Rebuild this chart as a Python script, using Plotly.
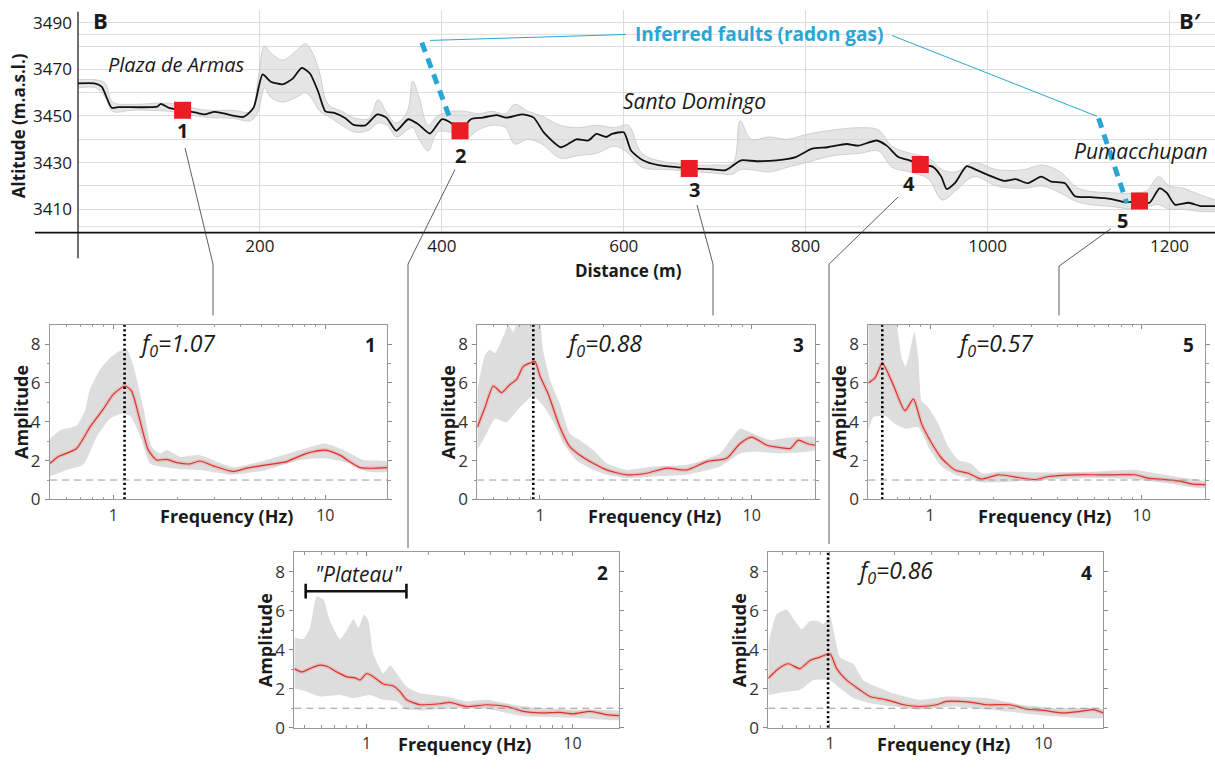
import plotly.graph_objects as go

W, H = 1215, 769
def px(x): return x / W
def py(y): return 1 - y / H

FONT = "Open Sans"
INK = "#1a1a1a"
CYAN = "#2aa6d6"
RED_SQ = "#ec1c24"
RED_LN = "#d9342b"

# ---------------- profile B-B' (distance m, altitude m.a.s.l.) ----------------
profile = [(0, 3464), (18, 3464), (26, 3462.6), (37, 3453.5), (44, 3453.8), (87, 3454), (91, 3455.2),
           (100, 3453.5), (114, 3452.5), (130, 3451.4), (139, 3450.7), (150, 3451.8), (160, 3451.1),
           (182, 3449.6), (193, 3453.5), (203, 3467.8), (212, 3464.7), (225, 3463.6), (236, 3466),
           (246, 3470.6), (255, 3468.2), (264, 3460.5), (272, 3452), (281, 3451.4), (294, 3449),
           (303, 3446.2), (316, 3446), (329, 3450.7), (339, 3449.3), (350, 3443.7), (363, 3448.6),
           (374, 3446.5), (387, 3442.5), (400, 3448.6), (411, 3446.8), (420, 3443.7), (432, 3448.6),
           (445, 3449.3), (460, 3450.4), (471, 3449.3), (488, 3450.7), (501, 3449.3), (512, 3443),
           (531, 3436.6), (548, 3440), (561, 3439.5), (570, 3442.3), (581, 3441), (587, 3442.3),
           (600, 3443), (608, 3435.2), (621, 3431), (638, 3428.9), (660, 3428), (672, 3427.5),
           (695, 3427.2), (712, 3426.8), (729, 3431), (746, 3430.6), (768, 3431), (789, 3432.4),
           (807, 3436), (824, 3436.6), (845, 3438), (858, 3437.3), (878, 3439.5), (889, 3437.3),
           (902, 3432.4), (914, 3431), (926, 3429.2), (940, 3428.2), (949, 3424), (955, 3418.7),
           (964, 3421.2), (977, 3428.5), (988, 3426.8), (1005, 3424), (1018, 3422.2), (1031, 3422.9),
           (1044, 3421.2), (1059, 3424), (1070, 3421.9), (1085, 3421.2), (1096, 3415.6), (1113, 3415.2),
           (1135, 3414.5), (1152, 3413), (1167, 3413.5), (1178, 3412.8), (1189, 3419), (1197, 3417),
           (1206, 3412), (1221, 3412.8), (1234, 3411.4), (1250, 3411.4)]

# spread of the individual profiles (distance, upper, lower)
envelope = [(0, 3465.5, 3462), (20, 3465.5, 3462), (30, 3464, 3458), (38, 3456, 3452), (60, 3455, 3452.5),
            (100, 3455.5, 3452), (140, 3452.5, 3449.5), (170, 3452.5, 3449), (190, 3452, 3448),
            (198, 3466, 3452), (205, 3480, 3462), (212, 3477, 3458), (225, 3474, 3456), (240, 3478, 3458),
            (250, 3481, 3460), (258, 3477, 3457), (266, 3468, 3452), (275, 3455, 3450), (290, 3452, 3446),
            (305, 3449, 3443), (320, 3449, 3444), (330, 3457, 3447), (340, 3451, 3446), (350, 3447, 3441),
            (362, 3452, 3444), (368, 3465, 3445), (375, 3458, 3440), (385, 3446, 3435), (395, 3450, 3443),
            (410, 3452, 3443), (425, 3452, 3440), (440, 3451, 3444), (455, 3452, 3446), (470, 3451, 3445),
            (480, 3455, 3438), (495, 3452, 3440), (510, 3450, 3438), (530, 3446, 3432), (550, 3445, 3433),
            (570, 3446, 3434), (590, 3445, 3437), (605, 3446, 3434), (620, 3434, 3428), (650, 3430, 3427),
            (700, 3429, 3425.5), (720, 3430, 3425), (728, 3448, 3427), (740, 3440, 3427), (760, 3441, 3426),
            (780, 3440, 3428), (800, 3442, 3430), (830, 3444, 3433), (860, 3445, 3434), (880, 3444, 3435),
            (895, 3437, 3428), (915, 3434, 3426), (935, 3432, 3423), (950, 3427, 3414), (965, 3426, 3418),
            (985, 3430, 3424), (1010, 3427, 3420), (1040, 3427, 3419), (1060, 3429, 3420), (1080, 3426, 3417),
            (1100, 3419, 3413), (1140, 3417, 3411), (1160, 3417, 3410), (1175, 3418, 3411), (1188, 3424, 3412),
            (1200, 3420, 3410), (1215, 3419, 3410), (1235, 3416, 3409), (1250, 3414, 3409)]

site_ids = ["1", "2", "3", "4", "5"]
site_dist = [115, 420, 672, 926, 1167]
site_alt = [3452.5, 3443.7, 3427.5, 3429.2, 3413.6]

fault1_d = [378, 410]
fault1_a = [3481.5, 3447.8]
fault2_d = [1122, 1153]
fault2_a = [3449, 3412.7]

dist_ticks = [200, 400, 600, 800, 1000, 1200]
alt_ticks = [3410, 3430, 3450, 3470, 3490]

# ---------------- H/V spectra (frequency Hz, amplitude) ----------------
s1_med_f = [0.503, 0.55, 0.671, 0.776, 0.897, 1.0, 1.135, 1.22, 1.336, 1.463, 1.6, 1.785, 1.99, 2.3, 2.56, 2.96, 3.68, 4.26, 5.29, 6.57, 8.17, 10.0, 11.7, 14.6, 19.6]
s1_med_a = [1.86, 2.2, 2.62, 3.72, 4.65, 5.41, 5.84, 5.58, 4.06, 2.54, 2.03, 2.06, 1.9, 1.83, 1.98, 1.73, 1.44, 1.61, 1.78, 1.95, 2.37, 2.54, 2.28, 1.64, 1.64]
s1_up_f = [0.503, 0.56, 0.671, 0.735, 0.776, 0.865, 0.964, 1.056, 1.156, 1.243, 1.385, 1.516, 1.66, 1.785, 2.06, 2.56, 3.68, 5.29, 7.6, 9.96, 12.2, 15.1, 19.6]
s1_up_a = [3.13, 3.55, 3.8, 4.57, 5.67, 6.68, 7.28, 7.6, 7.75, 6.9, 4.74, 2.71, 2.37, 2.54, 2.2, 2.28, 1.66, 2.03, 2.54, 2.88, 2.54, 2.03, 1.95]
s1_lo_f = [0.503, 0.602, 0.722, 0.834, 0.964, 1.075, 1.198, 1.336, 1.49, 1.66, 2.06, 2.56, 3.68, 5.29, 7.6, 9.96, 13.1, 15.7, 19.6]
s1_lo_a = [1.18, 1.52, 1.78, 3.21, 4.15, 4.4, 4.31, 3.3, 1.85, 1.69, 1.56, 1.52, 1.27, 1.52, 2.03, 2.12, 1.86, 1.44, 1.44]

s2_med_f = [0.445, 0.483, 0.53, 0.582, 0.639, 0.715, 0.8, 0.878, 0.928, 1.0, 1.077, 1.205, 1.348, 1.452, 1.565, 1.816, 2.27, 2.54, 3.06, 3.83, 4.79, 5.78, 6.96, 8.71, 10.1, 12.2, 14.7, 17.0]
s2_med_a = [3.03, 2.86, 3.03, 3.2, 3.15, 2.86, 2.61, 2.56, 2.44, 2.78, 2.61, 2.24, 2.14, 1.85, 1.43, 1.18, 1.23, 1.3, 1.09, 1.18, 1.09, 0.84, 0.76, 0.79, 0.71, 0.84, 0.67, 0.62]
s2_up_f = [0.445, 0.492, 0.53, 0.571, 0.616, 0.663, 0.742, 0.814, 0.861, 0.911, 0.971, 1.019, 1.077, 1.205, 1.299, 1.399, 1.565, 1.816, 2.45, 3.06, 3.83, 5.16, 6.96, 10.1, 17.0]
s2_up_a = [4.63, 4.55, 5.13, 6.73, 6.57, 5.47, 4.55, 5.13, 5.56, 5.13, 5.81, 5.47, 3.79, 2.78, 3.2, 2.78, 2.1, 1.77, 1.6, 1.35, 1.43, 1.18, 1.01, 0.93, 0.84]
s2_lo_f = [0.445, 0.511, 0.593, 0.742, 0.861, 1.038, 1.205, 1.399, 1.565, 1.887, 2.74, 3.98, 5.78, 10.1, 17.0]
s2_lo_a = [2.02, 1.85, 1.6, 1.68, 1.52, 1.68, 1.43, 1.35, 0.93, 0.89, 1.01, 0.93, 0.59, 0.51, 0.42]

s3_med_f = [0.506, 0.55, 0.602, 0.659, 0.722, 0.776, 0.834, 0.897, 0.947, 1.0, 1.095, 1.243, 1.386, 1.545, 1.786, 2.065, 2.57, 3.19, 3.97, 4.93, 6.13, 7.62, 8.81, 10.0, 11.8, 13.6, 15.2, 16.6, 18.2, 19.9]
s3_med_a = [3.72, 4.74, 5.84, 5.5, 5.92, 6.18, 6.85, 7.02, 7.1, 6.35, 5.41, 3.72, 2.71, 2.28, 1.86, 1.52, 1.27, 1.35, 1.61, 1.52, 1.95, 2.12, 2.88, 3.21, 2.79, 2.67, 2.62, 3.05, 2.88, 2.79]
s3_up_f = [0.506, 0.55, 0.58, 0.613, 0.671, 0.709, 0.748, 0.804, 0.897, 0.982, 1.037, 1.115, 1.243, 1.386, 1.545, 1.786, 2.065, 2.57, 3.43, 4.93, 7.08, 8.81, 10.2, 12.2, 13.6, 16.3, 19.9]
s3_up_a = [5.67, 7.44, 7.7, 7.53, 8.38, 8.97, 8.63, 9.6, 9.8, 9.6, 7.61, 6.18, 4.9, 3.38, 3.05, 2.54, 1.86, 1.52, 1.69, 1.78, 2.37, 3.64, 3.38, 3.05, 3.13, 3.21, 3.21]
s3_lo_f = [0.506, 0.56, 0.613, 0.696, 0.804, 0.93, 1.037, 1.156, 1.289, 1.49, 1.786, 2.065, 2.57, 3.43, 4.93, 7.08, 8.81, 10.2, 13.6, 19.9]
s3_lo_a = [2.54, 3.38, 4.15, 3.98, 4.74, 5.33, 4.82, 4.0, 2.9, 2.0, 1.52, 1.27, 1.1, 1.18, 1.27, 1.69, 2.37, 2.45, 2.37, 2.54]

s4_med_f = [0.514, 0.573, 0.638, 0.723, 0.806, 0.898, 1.0, 1.075, 1.197, 1.382, 1.54, 1.844, 2.21, 2.64, 3.16, 3.52, 4.53, 5.43, 6.98, 8.35, 10.0, 12.4, 14.9, 17.2, 19.1]
s4_med_a = [2.53, 3.03, 3.28, 3.03, 3.45, 3.62, 3.79, 3.03, 2.44, 1.94, 1.6, 1.43, 1.18, 1.09, 1.18, 1.35, 1.31, 1.18, 1.18, 0.96, 0.89, 0.76, 0.84, 0.93, 0.76]
s4_up_f = [0.514, 0.562, 0.626, 0.685, 0.737, 0.806, 0.882, 0.931, 1.0, 1.055, 1.114, 1.286, 1.433, 1.655, 1.981, 2.64, 3.52, 5.43, 7.78, 11.1, 19.1]
s4_up_a = [4.29, 5.81, 6.06, 5.47, 5.05, 5.47, 5.47, 5.3, 5.72, 4.63, 3.62, 3.28, 2.44, 2.1, 1.77, 1.43, 1.6, 1.52, 1.18, 1.01, 0.93]
s4_lo_f = [0.514, 0.626, 0.723, 0.835, 1.0, 1.114, 1.286, 1.54, 1.981, 2.64, 3.79, 5.43, 7.78, 11.1, 19.1]
s4_lo_a = [1.68, 1.85, 1.94, 2.44, 2.44, 2.02, 1.52, 1.26, 1.09, 0.93, 1.09, 0.93, 0.76, 0.59, 0.51]

s5_med_f = [0.511, 0.55, 0.595, 0.659, 0.762, 0.834, 0.913, 1.0, 1.135, 1.313, 1.517, 1.754, 2.1, 2.71, 3.13, 3.62, 4.84, 6.24, 7.48, 9.3, 10.7, 12.9, 15.4, 17.2, 19.9]
s5_med_a = [6.0, 6.26, 7.02, 6.09, 4.57, 5.16, 3.89, 3.05, 2.12, 1.52, 1.35, 1.05, 1.27, 1.1, 1.02, 1.18, 1.27, 1.27, 1.27, 1.27, 1.1, 1.02, 0.93, 0.8, 0.76]
s5_up_f = [0.511, 0.671, 0.735, 0.767, 0.804, 0.843, 0.881, 0.913, 0.982, 1.095, 1.22, 1.361, 1.573, 1.754, 2.18, 3.62, 6.24, 9.3, 12.9, 15.4, 19.9]
s5_up_a = [9.6, 9.6, 7.28, 6.85, 7.61, 8.63, 7.28, 5.08, 4.74, 3.89, 2.71, 2.03, 1.83, 1.35, 1.44, 1.39, 1.44, 1.52, 1.27, 1.13, 0.93]
s5_lo_f = [0.511, 0.54, 0.613, 0.683, 0.762, 0.881, 1.0, 1.135, 1.313, 1.573, 1.754, 2.52, 3.62, 6.24, 9.3, 12.9, 19.9]
s5_lo_a = [3.55, 4.23, 4.31, 3.89, 3.64, 3.72, 2.54, 1.69, 1.27, 1.02, 0.88, 0.93, 1.02, 1.1, 1.02, 0.85, 0.59]

f0_text = {"1": "1.07", "3": "0.88", "4": "0.86", "5": "0.57"}
f0_line = {"1": 1.13, "3": 0.93, "4": 0.98, "5": 0.595}
plateau_f = [0.505, 1.56]
plateau_amp = 7.0

spectra = {
    "1": (s1_med_f, s1_med_a, s1_up_f, s1_up_a, s1_lo_f, s1_lo_a),
    "2": (s2_med_f, s2_med_a, s2_up_f, s2_up_a, s2_lo_f, s2_lo_a),
    "3": (s3_med_f, s3_med_a, s3_up_f, s3_up_a, s3_lo_f, s3_lo_a),
    "4": (s4_med_f, s4_med_a, s4_up_f, s4_up_a, s4_lo_f, s4_lo_a),
    "5": (s5_med_f, s5_med_a, s5_up_f, s5_up_a, s5_lo_f, s5_lo_a),
}

# panel frames in pixels: left, right, top, bottom, log10 x-range
panels = {
    "1": (50, 387, 329.3, 506.7, -0.2986, 1.291),
    "2": (294.3, 619, 560.2, 738.3, -0.352, 1.2266),
    "3": (477.3, 815, 329.3, 506.7, -0.296, 1.299),
    "4": (768.3, 1103.3, 560.2, 738.3, -0.289, 1.281),
    "5": (868.3, 1205, 329.3, 506.7, -0.2915, 1.299),
}

fig = go.Figure()

# ---------------- top profile ----------------
prof_d = [p[0] for p in profile]
prof_a = [p[1] for p in profile]
env_d = [e[0] for e in envelope]
env_hi = [e[1] for e in envelope]
env_lo = [e[2] for e in envelope]

fig.add_trace(go.Scatter(x=env_d, y=env_lo, mode="lines", line=dict(color="#c2c2c2", width=0.7, shape="spline"),
                         hoverinfo="skip", xaxis="x", yaxis="y"))
fig.add_trace(go.Scatter(x=env_d, y=env_hi, mode="lines", line=dict(color="#c2c2c2", width=0.7, shape="spline"),
                         fill="tonexty", fillcolor="rgba(212,212,212,0.6)", hoverinfo="skip", xaxis="x", yaxis="y"))
fig.add_trace(go.Scatter(x=prof_d, y=prof_a, mode="lines", line=dict(color="#111111", width=1.8, shape="spline", smoothing=0.6),
                         xaxis="x", yaxis="y"))
for fd, fa in [(fault1_d, fault1_a), (fault2_d, fault2_a)]:
    fig.add_trace(go.Scatter(x=fd, y=fa, mode="lines", line=dict(color=CYAN, width=5, dash="10px,7px"),
                             xaxis="x", yaxis="y"))
fig.add_trace(go.Scatter(x=site_dist, y=site_alt, mode="markers",
                         marker=dict(symbol="square", size=17, color=RED_SQ, line=dict(width=0)),
                         xaxis="x", yaxis="y"))

annotations = []
shapes = []

label_shift = {"1": (0, -20), "2": (0, -25), "3": (5, -21), "4": (-11, -19), "5": (-17, -20)}
for sid, d, a in zip(site_ids, site_dist, site_alt):
    dx, dy = label_shift[sid]
    annotations.append(dict(x=d, y=a, xref="x", yref="y", text=f"<b>{sid}</b>", showarrow=False,
                            xshift=dx, yshift=dy, font=dict(size=20, color=INK, family=FONT)))

def ptext(x, y, text, size, color=INK, angle=0, xanchor="center"):
    annotations.append(dict(x=px(x), y=py(y), xref="paper", yref="paper", text=text, showarrow=False,
                            xanchor=xanchor, yanchor="middle", textangle=angle,
                            font=dict(size=size, color=color, family=FONT)))

ptext(100, 20, "<b>B</b>", 22)
ptext(1190, 20, "<b>B′</b>", 22)
ptext(18, 128, "<b>Altitude (m.a.s.l.)</b>", 17, angle=-90)
ptext(628, 274, "<b>Distance (m)</b>", 17)
ptext(759, 35, "<b>Inferred faults (radon gas)</b>", 19, color=CYAN)
ptext(176, 65, "<i>Plaza de Armas</i>", 20)
ptext(694, 102, "<i>Santo Domingo</i>", 21)
ptext(1141, 153, "<i>Pumacchupan</i>", 21)

def pline(x0, y0, x1, y1, color="#333333", width=0.8):
    shapes.append(dict(type="line", xref="paper", yref="paper", x0=px(x0), y0=py(y0), x1=px(x1), y1=py(y1),
                       line=dict(color=color, width=width), layer="above"))

# axes of profile (cross style)
pline(35, 236, 1215, 236, color="#111111", width=1.6)
pline(78, 12, 78, 262, color="#111111", width=1.2)
# extra faint grid lines
for alt in (3485, 3402.5):
    shapes.append(dict(type="line", xref="paper", yref="y", x0=px(78), x1=1, y0=alt, y1=alt,
                       line=dict(color="#dcdcdc", width=1), layer="below"))
# fault label leader lines
pline(430, 41, 626, 35, color=CYAN, width=1)
pline(892, 36, 1097, 118, color=CYAN, width=1)
# connectors from sites to panels
pline(185, 150, 213, 268); pline(213, 268, 213, 320)
pline(455, 172, 408, 268); pline(408, 268, 408, 556)
pline(697, 208, 713, 268); pline(713, 268, 713, 320)
pline(898, 200, 829, 268); pline(829, 268, 829, 552)
pline(1111, 232, 1059, 270); pline(1059, 270, 1059, 320)

layout = dict(
    xaxis=dict(domain=[px(78), 1], range=[0, 1250], tickvals=dist_ticks, ticktext=[str(t) for t in dist_ticks],
               showgrid=True, gridcolor="#dcdcdc", gridwidth=1, zeroline=False, showline=False, ticks="",
               tickfont=dict(size=17, color=INK, family=FONT), anchor="y", ticklabelstandoff=1),
    yaxis=dict(domain=[py(236), py(10)], range=[3400, 3495.5], tickvals=alt_ticks,
               ticktext=[str(t) for t in alt_ticks], showgrid=True, gridcolor="#dcdcdc",
               minor=dict(dtick=10, tick0=3400, showgrid=True, gridcolor="#dcdcdc", ticks=""),
               zeroline=False, showline=False, ticks="", tickfont=dict(size=17, color=INK, family=FONT),
               anchor="x", ticklabelstandoff=5),
)

minor_f = [0.5, 0.6, 0.7, 0.8, 0.9, 2, 3, 4, 5, 6, 7, 8, 9, 20]

for i, sid in enumerate(site_ids):
    n = i + 2
    xa, ya = f"x{n}", f"y{n}"
    left, right, top, bottom, lx0, lx1 = panels[sid]
    med_f, med_a, up_f, up_a, lo_f, lo_a = spectra[sid]

    fig.add_trace(go.Scatter(x=up_f + lo_f[::-1], y=up_a + lo_a[::-1], mode="lines", fill="toself",
                             fillcolor="#dddddd", line=dict(width=0, shape="spline", smoothing=0.5),
                             hoverinfo="skip", xaxis=xa, yaxis=ya))
    fig.add_trace(go.Scatter(x=med_f, y=med_a, mode="lines",
                             line=dict(color="rgba(236,160,160,0.45)", width=4, shape="spline", smoothing=0.6),
                             hoverinfo="skip", xaxis=xa, yaxis=ya))
    fig.add_trace(go.Scatter(x=med_f, y=med_a, mode="lines",
                             line=dict(color=RED_LN, width=1.2, shape="spline", smoothing=0.6),
                             xaxis=xa, yaxis=ya))
    if sid in f0_line:
        fig.add_trace(go.Scatter(x=[f0_line[sid], f0_line[sid]], y=[0, 9], mode="lines",
                                 line=dict(color="#000000", width=2.6, dash="2.2px,2.6px"),
                                 xaxis=xa, yaxis=ya))
    if sid == "2":
        bx = [plateau_f[0], plateau_f[1], None, plateau_f[0], plateau_f[0], None, plateau_f[1], plateau_f[1]]
        by = [plateau_amp, plateau_amp, None, plateau_amp - 0.38, plateau_amp + 0.38, None,
              plateau_amp - 0.38, plateau_amp + 0.38]
        fig.add_trace(go.Scatter(x=bx, y=by, mode="lines", line=dict(color="#111111", width=2.6),
                                 xaxis=xa, yaxis=ya))
        ptext(358, 582, '<i>"Plateau"</i>', 21)

    shapes.append(dict(type="line", xref=f"{xa} domain", yref=ya, x0=0, x1=1, y0=1, y1=1,
                       line=dict(color="#9a9a9a", width=1, dash="7px,5px"), layer="above"))

    layout[f"xaxis{n}"] = dict(domain=[px(left), px(right)], type="log", range=[lx0, lx1], anchor=ya,
                               tickvals=[1, 10], ticktext=["1", "10"], ticks="inside", ticklen=4,
                               tickcolor="#8a8a8a", showline=True, linecolor="#9a9a9a", linewidth=1,
                               mirror="ticks", showgrid=False, zeroline=False,
                               minor=dict(tickvals=minor_f, ticks="inside", ticklen=2.5, tickcolor="#9a9a9a"),
                               tickfont=dict(size=16, color="#333333", family=FONT), ticklabelstandoff=1)
    layout[f"yaxis{n}"] = dict(domain=[py(bottom), py(top)], range=[0, 9], anchor=xa,
                               tickvals=[0, 2, 4, 6, 8], ticks="outside", ticklen=4, tickcolor="#8a8a8a",
                               showline=True, linecolor="#9a9a9a", linewidth=1, mirror="ticks",
                               showgrid=False, zeroline=False,
                               minor=dict(tickvals=[1, 3, 5, 7], ticks="outside", ticklen=2.5, tickcolor="#9a9a9a"),
                               tickfont=dict(size=17, color="#333333", family=FONT), ticklabelstandoff=1)

    ptext(left - 29, (top + bottom) / 2, "<b>Amplitude</b>", 18, angle=-90)
    ptext((left + right) / 2 + 8, bottom + 17, "<b>Frequency (Hz)</b>", 18)
    ptext(right - 17, top + 21, f"<b>{sid}</b>", 19)
    if sid in f0_text:
        ptext(left + 87, top + 20, f"<i>f<sub>0</sub>={f0_text[sid]}</i>", 23, xanchor="left")

fig.update_layout(
    width=W, height=H, margin=dict(l=0, r=0, t=0, b=0),
    paper_bgcolor="white", plot_bgcolor="white", showlegend=False,
    font=dict(family=FONT, color=INK),
    annotations=annotations, shapes=shapes,
    **layout,
)

fig.write_html("out.html", config={"displayModeBar": False})
